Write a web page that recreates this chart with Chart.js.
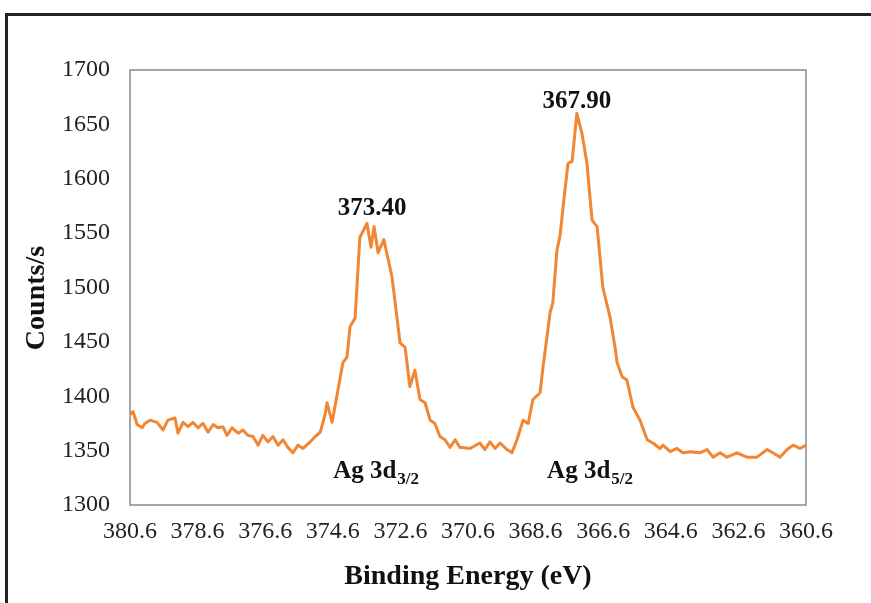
<!DOCTYPE html>
<html><head><meta charset="utf-8">
<script src="https://cdn.jsdelivr.net/npm/chart.js@4.4.1/dist/chart.umd.min.js"></script>
<style>
html,body{margin:0;padding:0;background:#fff;}
#wrap{position:relative;width:871px;height:603px;overflow:hidden;}
#frame{position:absolute;left:5px;top:13px;width:900px;height:700px;border-left:3px solid #222;border-top:3px solid #222;}
canvas{position:absolute;left:0;top:0;}
</style></head><body>
<div id="wrap"><div id="frame"></div><canvas id="c" width="871" height="603"></canvas></div>
<script>
const energies = [
380.60,380.51,380.39,380.24,380.16,380.01,379.80,379.62,379.48,379.27,
379.18,379.03,378.88,378.74,378.59,378.44,378.29,378.14,378.00,377.85,
377.73,377.58,377.40,377.26,377.11,376.96,376.81,376.67,376.52,376.37,
376.22,376.07,375.93,375.78,375.63,375.48,375.27,375.12,374.97,374.83,
374.77,374.62,374.30,374.18,374.09,373.94,373.80,373.59,373.47,373.38,
373.26,373.09,372.85,372.61,372.46,372.32,372.17,372.02,371.87,371.72,
371.58,371.43,371.28,371.13,370.98,370.84,370.54,370.25,370.10,369.95,
369.80,369.65,369.45,369.30,369.15,368.97,368.82,368.68,368.47,368.38,
368.17,368.09,367.97,367.88,367.73,367.64,367.52,367.38,367.23,367.08,
366.93,366.78,366.61,366.40,366.25,366.19,366.04,365.90,365.72,365.51,
365.30,365.13,364.92,364.83,364.62,364.42,364.24,364.03,363.74,363.53,
363.35,363.14,362.94,362.64,362.35,362.05,361.75,361.58,361.37,361.16,
360.98,360.78,360.60];
const counts = [
1383,1386,1374,1371,1375,1378,1376,1369,1378,1380,
1366,1376,1372,1376,1371,1375,1367,1374,1371,1372,
1364,1371,1366,1369,1364,1363,1355,1364,1358,1363,
1355,1360,1353,1348,1355,1352,1358,1363,1367,1383,
1394,1376,1431,1436,1464,1472,1546,1559,1537,1556,
1532,1544,1510,1449,1445,1409,1424,1397,1394,1378,
1375,1363,1360,1353,1360,1353,1352,1357,1351,1358,
1352,1357,1351,1348,1360,1378,1375,1397,1403,1427,
1477,1486,1534,1547,1590,1614,1616,1660,1642,1614,
1562,1556,1500,1473,1445,1431,1418,1415,1390,1378,
1360,1357,1352,1355,1349,1352,1348,1349,1348,1351,
1344,1348,1344,1348,1344,1344,1351,1348,1344,1351,
1355,1352,1355];
const xTicks = [380.6,378.6,376.6,374.6,372.6,370.6,368.6,366.6,364.6,362.6,360.6];
const yTicks = [1300,1350,1400,1450,1500,1550,1600,1650,1700];
const peakTexts = ['373.40','367.90'];
const peakAtE = [373.44, 367.38];
const peakAtC = [1567, 1665];
const bandTexts = ['Ag 3d','Ag 3d'];
const bandSubs = ['3/2','5/2'];
const bandAtE = [374.59, 368.26];
const bandAtC = [1325, 1325];

const SERIF = "'Liberation Serif','DejaVu Serif',serif";

const plotFrame = {
  id:'plotFrame',
  beforeDatasetsDraw(chart){
    const {ctx, chartArea:a} = chart;
    ctx.save();
    ctx.strokeStyle = '#8a8a8a';
    ctx.lineWidth = 1.5;
    ctx.strokeRect(a.left, a.top, a.right-a.left, a.bottom-a.top);
    ctx.restore();
  }
};
const notes = {
  id:'notes',
  afterDatasetsDraw(chart){
    const {ctx, scales} = chart;
    ctx.save();
    ctx.fillStyle = '#111';
    ctx.textBaseline = 'alphabetic';
    ctx.font = "bold 25px " + SERIF;
    ctx.textAlign = 'center';
    peakTexts.forEach((t,i)=>{
      ctx.fillText(t, scales.x.getPixelForValue(peakAtE[i]), scales.y.getPixelForValue(peakAtC[i]));
    });
    ctx.textAlign = 'left';
    bandTexts.forEach((t,i)=>{
      const x = scales.x.getPixelForValue(bandAtE[i]);
      const y = scales.y.getPixelForValue(bandAtC[i]);
      ctx.font = "bold 25px " + SERIF;
      ctx.fillText(t, x, y);
      const w = ctx.measureText(t).width;
      ctx.font = "bold 17px " + SERIF;
      ctx.fillText(bandSubs[i], x + w + 1, y + 6);
    });
    ctx.restore();
  }
};

new Chart(document.getElementById('c'), {
  type:'line',
  data:{datasets:[{
    data: energies.map((e,i)=>({x:e, y:counts[i]})),
    borderColor:'#F28633',
    borderWidth:3,
    borderJoinStyle:'round',
    pointRadius:0,
    tension:0,
    fill:false
  }]},
  options:{
    responsive:false, animation:false, devicePixelRatio:1,
    layout:{padding:{left:0,right:65,top:70,bottom:0}},
    plugins:{legend:{display:false}, tooltip:{enabled:false}},
    scales:{
      x:{
        type:'linear', reverse:true, min:360.6, max:380.6,
        afterBuildTicks:s=>{s.ticks = xTicks.map(v=>({value:v}));},
        afterFit:s=>{s.height = 98;},
        grid:{display:false, drawTicks:false},
        border:{display:false},
        ticks:{padding:12, autoSkip:false, maxRotation:0, color:'#222',
          font:{family:SERIF, size:24}, callback:v=>Number(v).toFixed(1)},
        title:{display:true, text:'Binding Energy (eV)', color:'#111',
          font:{family:SERIF, size:28, weight:'bold', lineHeight:1},
          padding:{top:0,bottom:12}}
      },
      y:{
        type:'linear', min:1300, max:1700,
        afterBuildTicks:s=>{s.ticks = yTicks.map(v=>({value:v}));},
        afterFit:s=>{s.width = 130;},
        grid:{display:false, drawTicks:false},
        border:{display:false},
        ticks:{padding:20, color:'#222', font:{family:SERIF, size:24}, callback:v=>String(v)},
        title:{display:true, text:'Counts/s\u00a0\u00a0\u00a0', color:'#111',
          font:{family:SERIF, size:28, weight:'bold', lineHeight:1},
          padding:{top:23,bottom:0}}
      }
    }
  },
  plugins:[plotFrame, notes]
});
</script>
</body></html>
